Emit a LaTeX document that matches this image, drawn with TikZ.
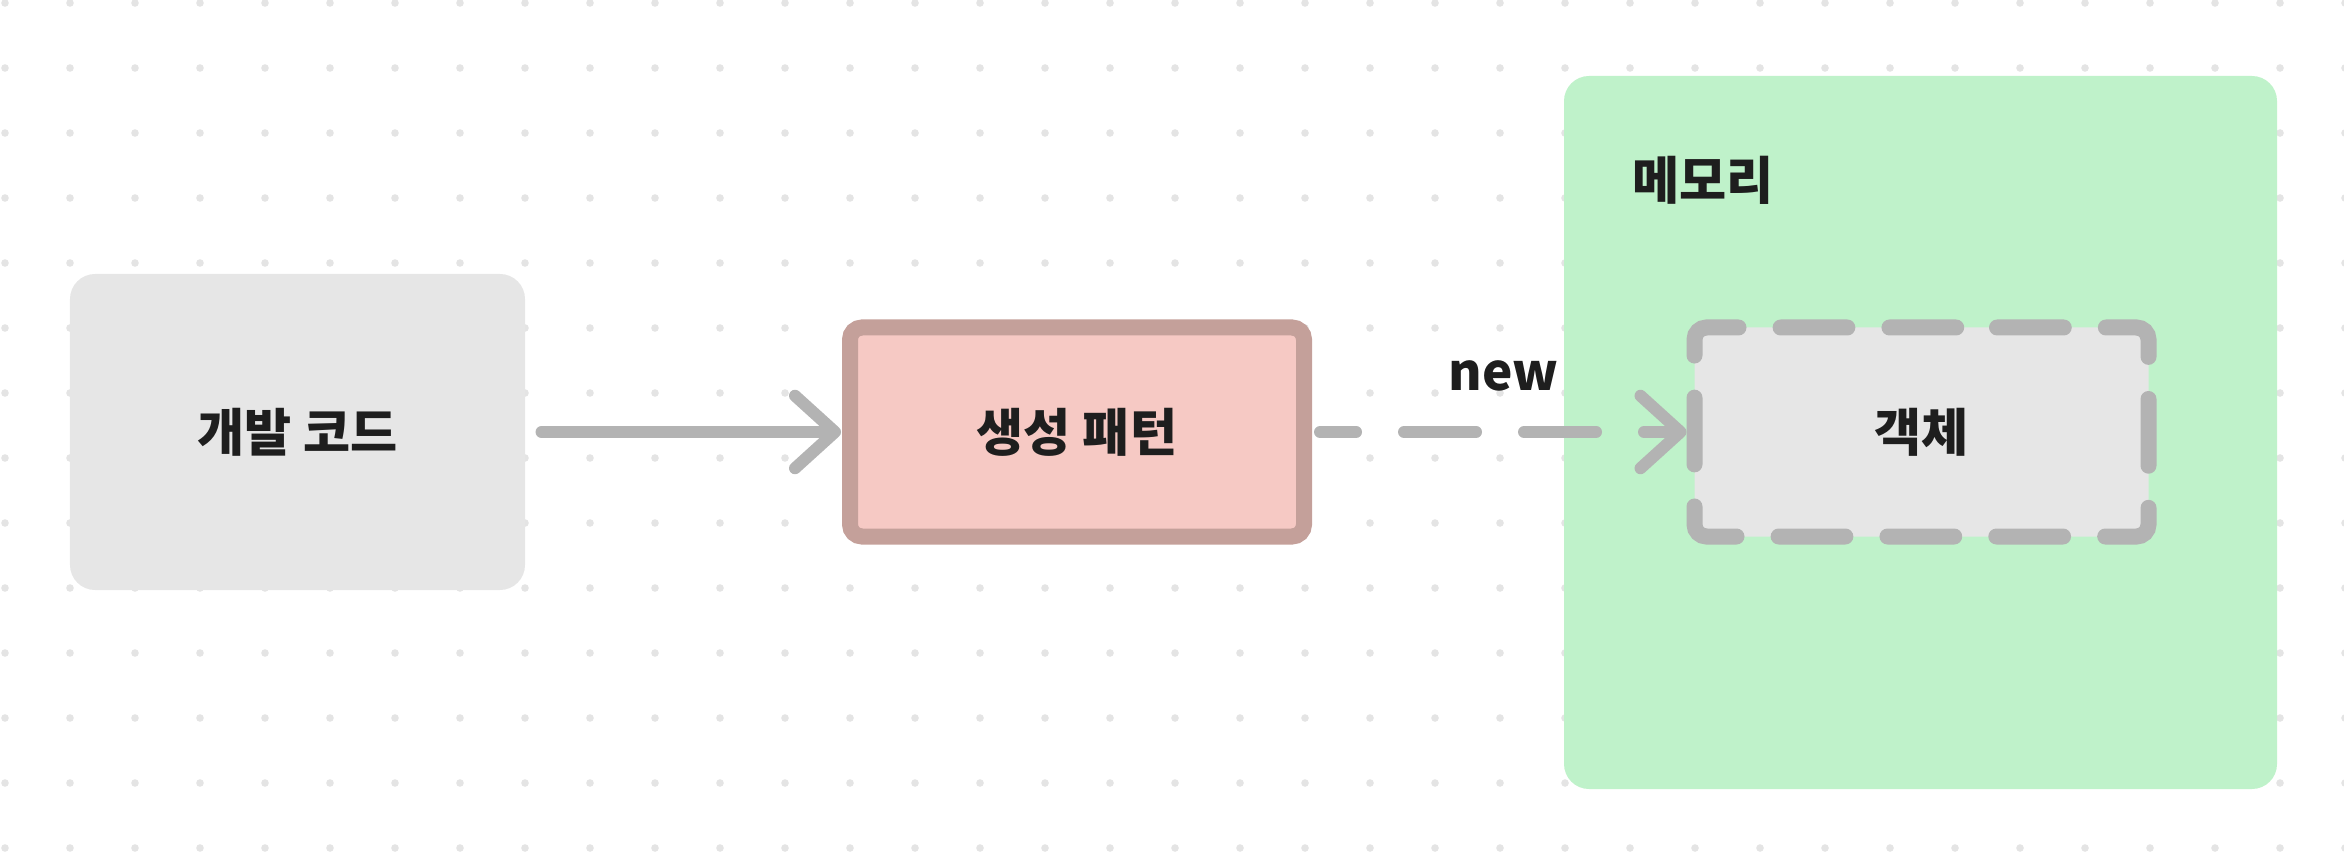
\documentclass[tikz,border=0pt]{standalone}
\usepackage{fontspec}
\setmainfont{Noto Sans CJK KR}[BoldFont={Noto Sans CJK KR Black}]
\usetikzlibrary{arrows.meta}
\definecolor{dotgray}{HTML}{E4E4E4}
\definecolor{boxgray}{HTML}{E6E6E6}
\definecolor{linegray}{HTML}{B3B3B3}
\definecolor{pinkfill}{HTML}{F6C9C4}
\definecolor{pinkline}{HTML}{C4A09A}
\definecolor{memgreen}{HTML}{BFF2CA}
\definecolor{ink}{HTML}{1E1E1E}
\tikzset{>={Straight Barb[length=16pt,width=29pt,round]}}
\tikzset{
  tagtext/.style={font=\bfseries\fontsize{20.5pt}{24pt}\selectfont, text=ink},
  softbox/.style={rectangle, fill=boxgray, rounded corners=10pt, tagtext,
    minimum width=182pt, minimum height=126.4pt},
  patternbox/.style={rectangle, fill=pinkfill, draw=pinkline, line width=6.4pt,
    rounded corners=4.8pt, tagtext, minimum width=181.6pt, minimum height=83.6pt},
  objectbox/.style={rectangle, fill=boxgray, rounded corners=4.8pt, outer sep=0pt,
    tagtext, minimum width=181.6pt, minimum height=83.6pt},
  objline/.style={draw=linegray, line width=6.4pt, line cap=round, rounded corners=4.8pt,
    dash pattern=on 26.7pt off 16.84pt, dash phase=35.1pt},
  conn/.style={draw=linegray, line width=4.8pt, line cap=round},
}

\begin{document}
\begin{tikzpicture}[x=0.4pt,y=-0.4pt]
  \useasboundingbox (0,0) rectangle (2344,852);
  % dot grid
  \foreach \i in {0,...,36}
    \foreach \j in {0,...,13}
      \fill[dotgray] (5+65*\i,3+65*\j) circle [radius=3.8];

  \node[softbox] (code) at (297.5,432) {개발 코드};
  \node[fill=memgreen, rounded corners=10pt, minimum width=285.2pt, minimum height=285.2pt] (memory) at (1920.5,432.5) {};
  \node[tagtext, anchor=west, inner sep=0pt] (memlabel) at (1632,180) {메모리};
  \node[patternbox] (pattern) at (1077,432) {생성 패턴};
  \node[objectbox] (object) at (1921.5,432) {객체};
  % dashed border, starting in a gap
  \draw[objline] ([xshift=21.76pt]object.north) -- (object.north east) -- (object.south east)
    -- (object.south west) -- (object.north west) -- ([xshift=21.76pt]object.north);

  \draw[conn, ->, shorten <=6.4pt, shorten >=0.4pt] (code) -- (pattern);
  \draw[conn, ->, dash pattern=on 28.8pt off 19.2pt, dash phase=14.4pt,
    shorten <=3.2pt, shorten >=3.2pt] (pattern) --
    node[above=14pt, inner sep=0pt, tagtext] (newlabel) {new} (object);
\end{tikzpicture}
\end{document}
